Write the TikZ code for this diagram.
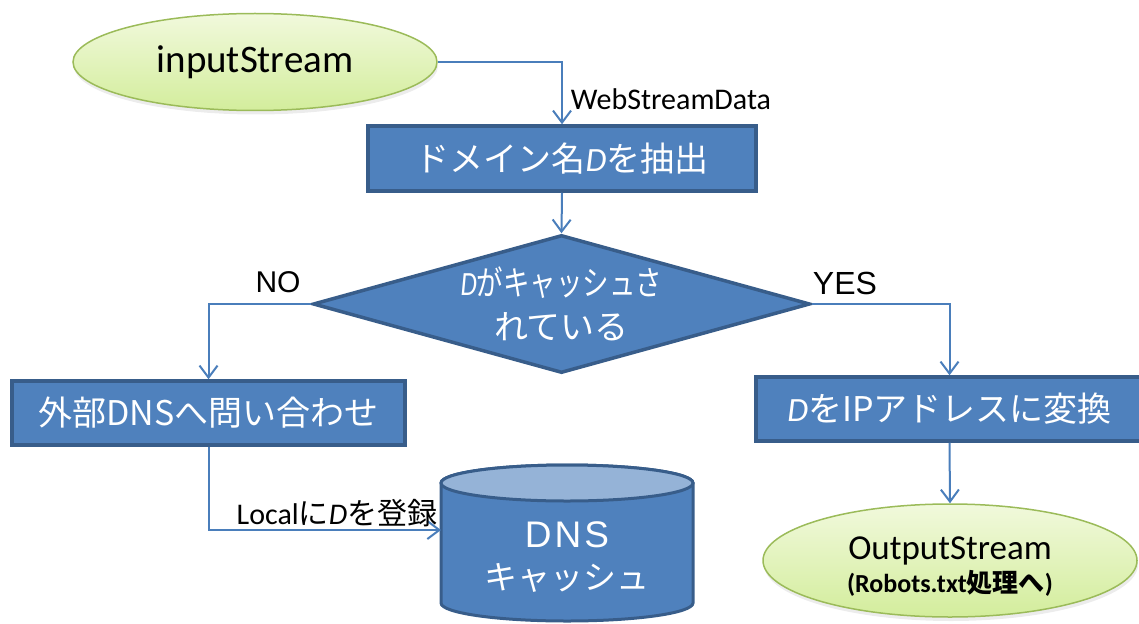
\documentclass[tikz,border=0pt]{standalone}
\usepackage{fontspec}
\usepackage{graphicx}
\setmainfont{Carlito}
\newfontfamily\jp{Noto Sans CJK JP}
\newfontfamily\arialish{Liberation Sans}
\usetikzlibrary{shapes.geometric,arrows.meta,shadows}

\definecolor{boxblue}{HTML}{4F81BD}
\definecolor{boxedge}{HTML}{385D8A}
\definecolor{linkblue}{HTML}{4A7EBB}
\definecolor{cyltop}{HTML}{95B3D7}
\definecolor{termtop}{HTML}{F1F9DC}
\definecolor{termbot}{HTML}{D3ED9C}
\definecolor{termedge}{HTML}{9BBB59}

% italic variable name
\newcommand\Dvar{{\rmfamily\itshape D}}
% first line of the decision text, set narrower
\newcommand\cachedfirst{\scalebox{0.78}[1]{\Dvar がキャッシュさ}}

\tikzset{
  procbox/.style={draw=boxedge, line width=3.5pt, fill=boxblue, text=white,
    inner sep=0pt, font=\jp\fontsize{34}{40}\selectfont},
  terminal/.style={ellipse, draw=termedge, line width=1.5pt,
    top color=termtop, bottom color=termbot, inner sep=0pt,
    drop shadow={opacity=0.15, shadow xshift=1pt, shadow yshift=-4pt}},
  link/.style={draw=linkblue, line width=2pt,
    -{Straight Barb[length=12pt,width=18pt]}},
  edgelabel/.style={text=black, inner sep=0pt},
}

\begin{document}
\begin{tikzpicture}[x=1pt,y=-1pt]
\useasboundingbox (0,0) rectangle (1139,623);
\clip (0,0) rectangle (1139,623);

% terminals
\node[terminal, minimum width=364pt, minimum height=97pt,
      font=\fontsize{39}{40}\selectfont] (input) at (255,62) {inputStream};
\node[terminal, minimum width=374pt, minimum height=113pt, align=center,
      font=\fontsize{35}{36}\selectfont] (output) at (950,560.5)
  {\rule{0pt}{34pt}OutputStream\\[-3pt]{\bfseries\fontsize{26}{28}\selectfont (Robots.txt{\jp 処理へ})}};

% process boxes
\node[procbox, minimum width=388pt, minimum height=65pt] (extract) at (562,158.5)
  {ドメイン名\Dvar を抽出};
\node[procbox, minimum width=393pt, minimum height=64pt] (query) at (208.5,413)
  {外部DNSへ問い合わせ};
\node[procbox, minimum width=387pt, minimum height=64pt] (toip) at (949.5,409)
  {\Dvar をIPアドレスに変換};

% decision
\node[diamond, draw=boxedge, line width=3.5pt, fill=boxblue, inner sep=0pt,
      minimum width=497pt, minimum height=138pt, aspect=3.6]
  (cached) at (561.5,304) {};
\node[text=white, align=center, inner sep=0pt,
      font=\jp\fontsize{34}{44}\selectfont] (cachedq) at (cached.center)
  {\cachedfirst\\れている};

% DNS cache cylinder
\node[minimum width=252pt, minimum height=156pt, inner sep=0pt] (cache) at (567,543) {};
\filldraw[fill=boxblue, draw=boxedge, line width=3pt]
  (441,483) -- (441,603)
  arc[start angle=180, end angle=360, x radius=126pt, y radius=18pt]
  -- (693,483)
  arc[start angle=0, end angle=180, x radius=126pt, y radius=18pt] -- cycle;
\filldraw[fill=cyltop, draw=boxedge, line width=3pt]
  (567,483) ellipse [x radius=126pt, y radius=18pt];
\node[text=white, align=center, inner sep=0pt] (cachetext) at (567,557)
  {{\arialish\fontsize{37}{40}\selectfont D\hspace{3pt}N\hspace{3pt}S}\\[14pt]{\jp\fontsize{33}{36}\selectfont キャッシュ}};
\coordinate (cachein) at (441,530);

% connectors
\draw[link] (input.east) -| (extract.north);
\draw[link] (extract.south) -- (cached.north);
\draw[link] (cached.west) -| (query.north);
\draw[link] (cached.east) -| (toip.north);
\draw[link] (query.south) |- (cachein);
\draw[link] (toip.south) -- (output.north);

% connector labels
\node[edgelabel, font=\fontsize{30}{32}\selectfont] (wsd) at (671,99) {WebStreamData};
\node[edgelabel, font=\arialish\fontsize{30}{32}\selectfont] (no) at (278,282) {NO};
\node[edgelabel, font=\arialish\fontsize{32}{32}\selectfont] (yes) at (845,283) {YES};
\node[edgelabel, font=\fontsize{30}{32}\selectfont] (reg) at (337,513)
  {Local{\jp に}\Dvar{\jp を登録}};
\end{tikzpicture}
\end{document}
